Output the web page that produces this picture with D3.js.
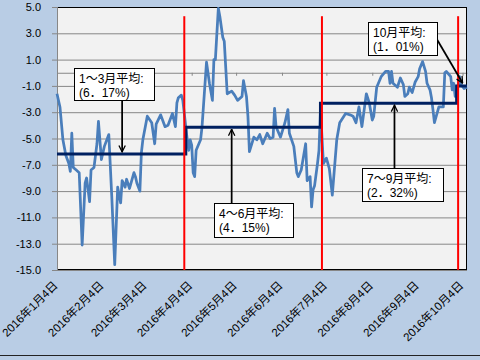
<!DOCTYPE html>
<html><head><meta charset="utf-8">
<script src="https://cdn.jsdelivr.net/npm/d3@7"></script>
<style>html,body{margin:0;padding:0;background:#b9cde5;} svg{display:block;}</style>
</head><body><svg id="c" width="480" height="360"></svg>
<script>
// ---------- data ----------
const dates = ["2016-01-04","2016-01-06","2016-01-08","2016-01-10","2016-01-12","2016-01-13","2016-01-14","2016-01-15","2016-01-17","2016-01-19",
"2016-01-21","2016-01-23","2016-01-24","2016-01-26","2016-01-27","2016-01-29","2016-01-31","2016-02-01","2016-02-03","2016-02-05",
"2016-02-08","2016-02-10","2016-02-12","2016-02-14","2016-02-16","2016-02-17","2016-02-19","2016-02-20","2016-02-22","2016-02-25",
"2016-02-26","2016-02-27","2016-02-29","2016-03-01","2016-03-02","2016-03-05","2016-03-08","2016-03-10","2016-03-11","2016-03-14",
"2016-03-17","2016-03-19","2016-03-22","2016-03-24","2016-03-25","2016-03-26","2016-03-28","2016-03-29","2016-04-01","2016-04-02",
"2016-04-03","2016-04-04","2016-04-05","2016-04-06","2016-04-07","2016-04-10","2016-04-11","2016-04-14","2016-04-16","2016-04-18",
"2016-04-19","2016-04-20","2016-04-22","2016-04-23","2016-04-25","2016-04-26","2016-04-28","2016-05-01","2016-05-03","2016-05-05",
"2016-05-08","2016-05-09","2016-05-11","2016-05-12","2016-05-13","2016-05-16","2016-05-18","2016-05-20","2016-05-22","2016-05-25",
"2016-05-27","2016-05-29","2016-05-30","2016-05-31","2016-06-03","2016-06-06","2016-06-08","2016-06-09","2016-06-12","2016-06-14",
"2016-06-15","2016-06-17","2016-06-20","2016-06-21","2016-06-23","2016-06-24","2016-06-25","2016-06-26","2016-06-28","2016-06-29",
"2016-06-30","2016-07-02","2016-07-04","2016-07-06","2016-07-08","2016-07-11","2016-07-13","2016-07-17","2016-07-20","2016-07-22",
"2016-07-24","2016-07-26","2016-07-28","2016-07-31","2016-08-02","2016-08-04","2016-08-05","2016-08-07","2016-08-10","2016-08-13",
"2016-08-15","2016-08-16","2016-08-17","2016-08-18","2016-08-21","2016-08-23","2016-08-25","2016-08-26","2016-08-28","2016-08-29",
"2016-08-31","2016-09-02","2016-09-04","2016-09-05","2016-09-07","2016-09-09","2016-09-10","2016-09-12","2016-09-13","2016-09-14",
"2016-09-15","2016-09-18","2016-09-21","2016-09-22","2016-09-23","2016-09-26","2016-09-27","2016-09-28","2016-09-29","2016-09-30",
"2016-10-02","2016-10-03","2016-10-05","2016-10-07"];
const values = [-1.6,-2.6,-5.1,-6.3,-6.9,-7.5,-4.6,-7.2,-7.4,-7.6,
-13.1,-8.4,-8.0,-9.8,-7.4,-7.2,-5.4,-3.7,-6.6,-5.6,
-4.7,-9.4,-14.6,-8.7,-9.9,-8.2,-8.7,-8.1,-8.8,-7.6,
-7.9,-8.4,-9.0,-6.1,-5.1,-3.3,-3.8,-5.4,-3.9,-3.2,
-4.1,-4.0,-3.1,-4.1,-2.3,-1.9,-1.7,-2.1,-5.1,-5.9,
-5.1,-5.5,-7.6,-7.9,-5.9,-5.1,-4.1,0.8,-0.8,-2.1,
1.0,1.0,4.9,4.3,2.7,2.4,-1.6,-1.4,-1.7,-2.1,
-1.8,-0.6,-1.8,-3.3,-6.0,-4.9,-5.1,-4.7,-5.4,-4.6,
-5.0,-4.9,-2.7,-4.1,-4.9,-3.8,-2.8,-4.6,-5.6,-7.6,
-7.9,-7.4,-5.4,-8.2,-7.9,-10.2,-8.9,-8.6,-6.9,-5.9,
-2.8,-6.9,-6.5,-7.3,-9.3,-5.1,-3.8,-3.1,-3.2,-3.3,
-3.8,-2.6,-4.1,-1.6,-2.3,-3.6,-3.3,-1.1,-0.3,0.1,
0.1,-0.8,0.1,-0.8,-1.1,-0.4,-0.9,-1.8,-1.6,-1.1,
-1.5,-0.7,-0.3,0.3,0.85,0.1,-0.8,-1.3,-1.9,-2.8,
-3.8,-2.6,-2.6,0.0,0.1,-0.3,-1.3,-0.8,-1.8,-1.6,
-0.3,-0.9,-1.2,-1.1];

const yTicks = [5,3,1,-1,-3,-5,-7,-9,-11,-13,-15];
const monthTicks = ["2016-01-04","2016-02-04","2016-03-04","2016-04-04","2016-05-04","2016-06-04","2016-07-04","2016-08-04","2016-09-04","2016-10-04"];
const domainDates = ["2016-01-04","2016-10-07"];

const quarterStarts = ["2016-01-04","2016-03-31","2016-06-30","2016-09-30"];
const quarterAvg = [-6.17,-4.15,-2.32,-1.01];
const quarterEnd = "2016-10-07";

const dividerDates = ["2016-03-30","2016-07-01","2016-10-01"];
const dividerTop = 4.3;

const calloutTitles = ["1～3月平均:","4～6月平均:","7～9月平均:","10月平均:"];
const calloutTexts = ["(6．17%)","(4．15%)","(2．32%)","(1．01%)"];
const calloutDates = ["2016-02-17","2016-05-01","2016-08-19","2016-10-04"];

// ---------- layout ----------
const W = 480, H = 360;
const plot = {left:57, right:467, top:7, bottom:270};
const parse = d3.utcParse("%Y-%m-%d");
const FONT = "'Liberation Sans','Noto Sans CJK JP',sans-serif";

const svg = d3.select("#c");
const x = d3.scaleUtc().domain(domainDates.map(parse)).range([plot.left, plot.right]);
const y = d3.scaleLinear().domain([-15, 5]).range([plot.bottom, plot.top]);

svg.append("rect").attr("x",0).attr("y",0).attr("width",W).attr("height",H).attr("fill","#b9cde5");
svg.append("line").attr("x1",0).attr("x2",W).attr("y1",355.5).attr("y2",355.5).attr("stroke","#222").attr("stroke-width",1);

svg.append("rect").attr("x",plot.left).attr("y",plot.top)
  .attr("width",plot.right-plot.left).attr("height",plot.bottom-plot.top)
  .attr("fill","#f2f2f2");

const yAxis = d3.axisLeft(y).tickValues(yTicks).tickSize(-(plot.right-plot.left)).tickSizeOuter(0)
  .tickFormat(v => v.toFixed(1));
const gy = svg.append("g").attr("transform",`translate(${plot.left},0)`).call(yAxis);
gy.select(".domain").remove();
gy.selectAll(".tick line").attr("stroke","#878787").attr("x1",-5);
gy.selectAll(".tick text").attr("font-family",FONT).attr("font-size",11).attr("fill","#000").attr("x",-16);

const xAxis = d3.axisBottom(x).tickValues(monthTicks.map(parse)).tickSize(3).tickSizeOuter(0).tickFormat("");
const gx = svg.append("g").attr("transform",`translate(0,${y(0)})`).call(xAxis);
gx.select(".domain").attr("stroke","#878787");
gx.selectAll(".tick line").attr("stroke","#878787");

svg.append("rect").attr("x",plot.left+0.5).attr("y",plot.top+0.5)
  .attr("width",plot.right-plot.left-1).attr("height",plot.bottom-plot.top-1)
  .attr("fill","none").attr("stroke","#000").attr("stroke-width",1);
svg.append("line").attr("x1",plot.left+0.5).attr("x2",plot.left+0.5).attr("y1",plot.top).attr("y2",plot.bottom)
  .attr("stroke","#878787");

const fmt = d3.utcFormat("%Y年%-m月%-d日");
svg.append("g").selectAll("text").data(monthTicks.map(parse)).join("text")
  .attr("transform", d => `translate(${x(d)+1.5},${plot.bottom+16}) rotate(-45)`)
  .attr("text-anchor","end").attr("font-family",FONT).attr("font-size",11.5).attr("fill","#000")
  .text(fmt);

const pts = dates.map((d,i)=>({d:parse(d), v:values[i]}));
svg.append("path").datum(pts)
  .attr("fill","none").attr("stroke","#4a7ebb").attr("stroke-width",2.75).attr("stroke-linejoin","round")
  .attr("d", d3.line().x(p=>x(p.d)).y(p=>y(p.v)));

const stepPts = quarterStarts.map((d,i)=>({d:parse(d), v:quarterAvg[i]}));
stepPts.push({d:parse(quarterEnd), v:quarterAvg[quarterAvg.length-1]});
svg.append("path").datum(stepPts)
  .attr("fill","none").attr("stroke","#002060").attr("stroke-width",3)
  .attr("d", d3.line().x(p=>x(p.d)).y(p=>y(p.v)).curve(d3.curveStepAfter));

svg.append("g").selectAll("line").data(dividerDates.map(parse)).join("line")
  .attr("x1",d=>x(d)).attr("x2",d=>x(d)).attr("y1",y(dividerTop)).attr("y2",plot.bottom)
  .attr("stroke","#ff0000").attr("stroke-width",2);

svg.append("defs").append("marker").attr("id","arr")
  .attr("viewBox","0 0 10 10").attr("refX",9).attr("refY",5)
  .attr("markerWidth",8).attr("markerHeight",8).attr("markerUnits","userSpaceOnUse")
  .attr("orient","auto")
  .append("path").attr("d","M1,1 L9,5 L1,9").attr("fill","none").attr("stroke","#000").attr("stroke-width",1.6);

const calloutLayout = [
  {bx:-48, by:-86, bw:80, bh:32, ax:0,   ay:-54, tx:0, ty:-2},
  {bx:-18, by:76,  bw:79, bh:34, ax:0,   ay:76,  tx:0, ty:2},
  {bx:-32, by:65,  bw:81, bh:33, ax:0,   ay:65,  tx:0, ty:2},
  {bx:-95, by:-64, bw:69, bh:33, ax:-27, ay:-49, tx:0, ty:-3}
];
calloutDates.forEach((ds,i)=>{
  const cx = x(parse(ds)), cy = y(quarterAvg[i]);
  const L = calloutLayout[i];
  const g = svg.append("g");
  g.append("line").attr("x1",cx+L.ax).attr("y1",cy+L.ay).attr("x2",cx+L.tx).attr("y2",cy+L.ty)
    .attr("stroke","#000").attr("stroke-width",1.75).attr("marker-end","url(#arr)");
  g.append("rect").attr("x",Math.round(cx+L.bx)+0.5).attr("y",Math.round(cy+L.by)+0.5)
    .attr("width",L.bw).attr("height",L.bh).attr("fill","#fff").attr("stroke","#000").attr("stroke-width",1);
  const t = g.append("text").attr("font-family",FONT).attr("font-size",12).attr("fill","#000");
  t.append("tspan").attr("x",Math.round(cx+L.bx)+5).attr("y",Math.round(cy+L.by)+15).text(calloutTitles[i]);
  t.append("tspan").attr("x",Math.round(cx+L.bx)+5).attr("y",Math.round(cy+L.by)+29).text(calloutTexts[i]);
});
</script>
</body></html>
